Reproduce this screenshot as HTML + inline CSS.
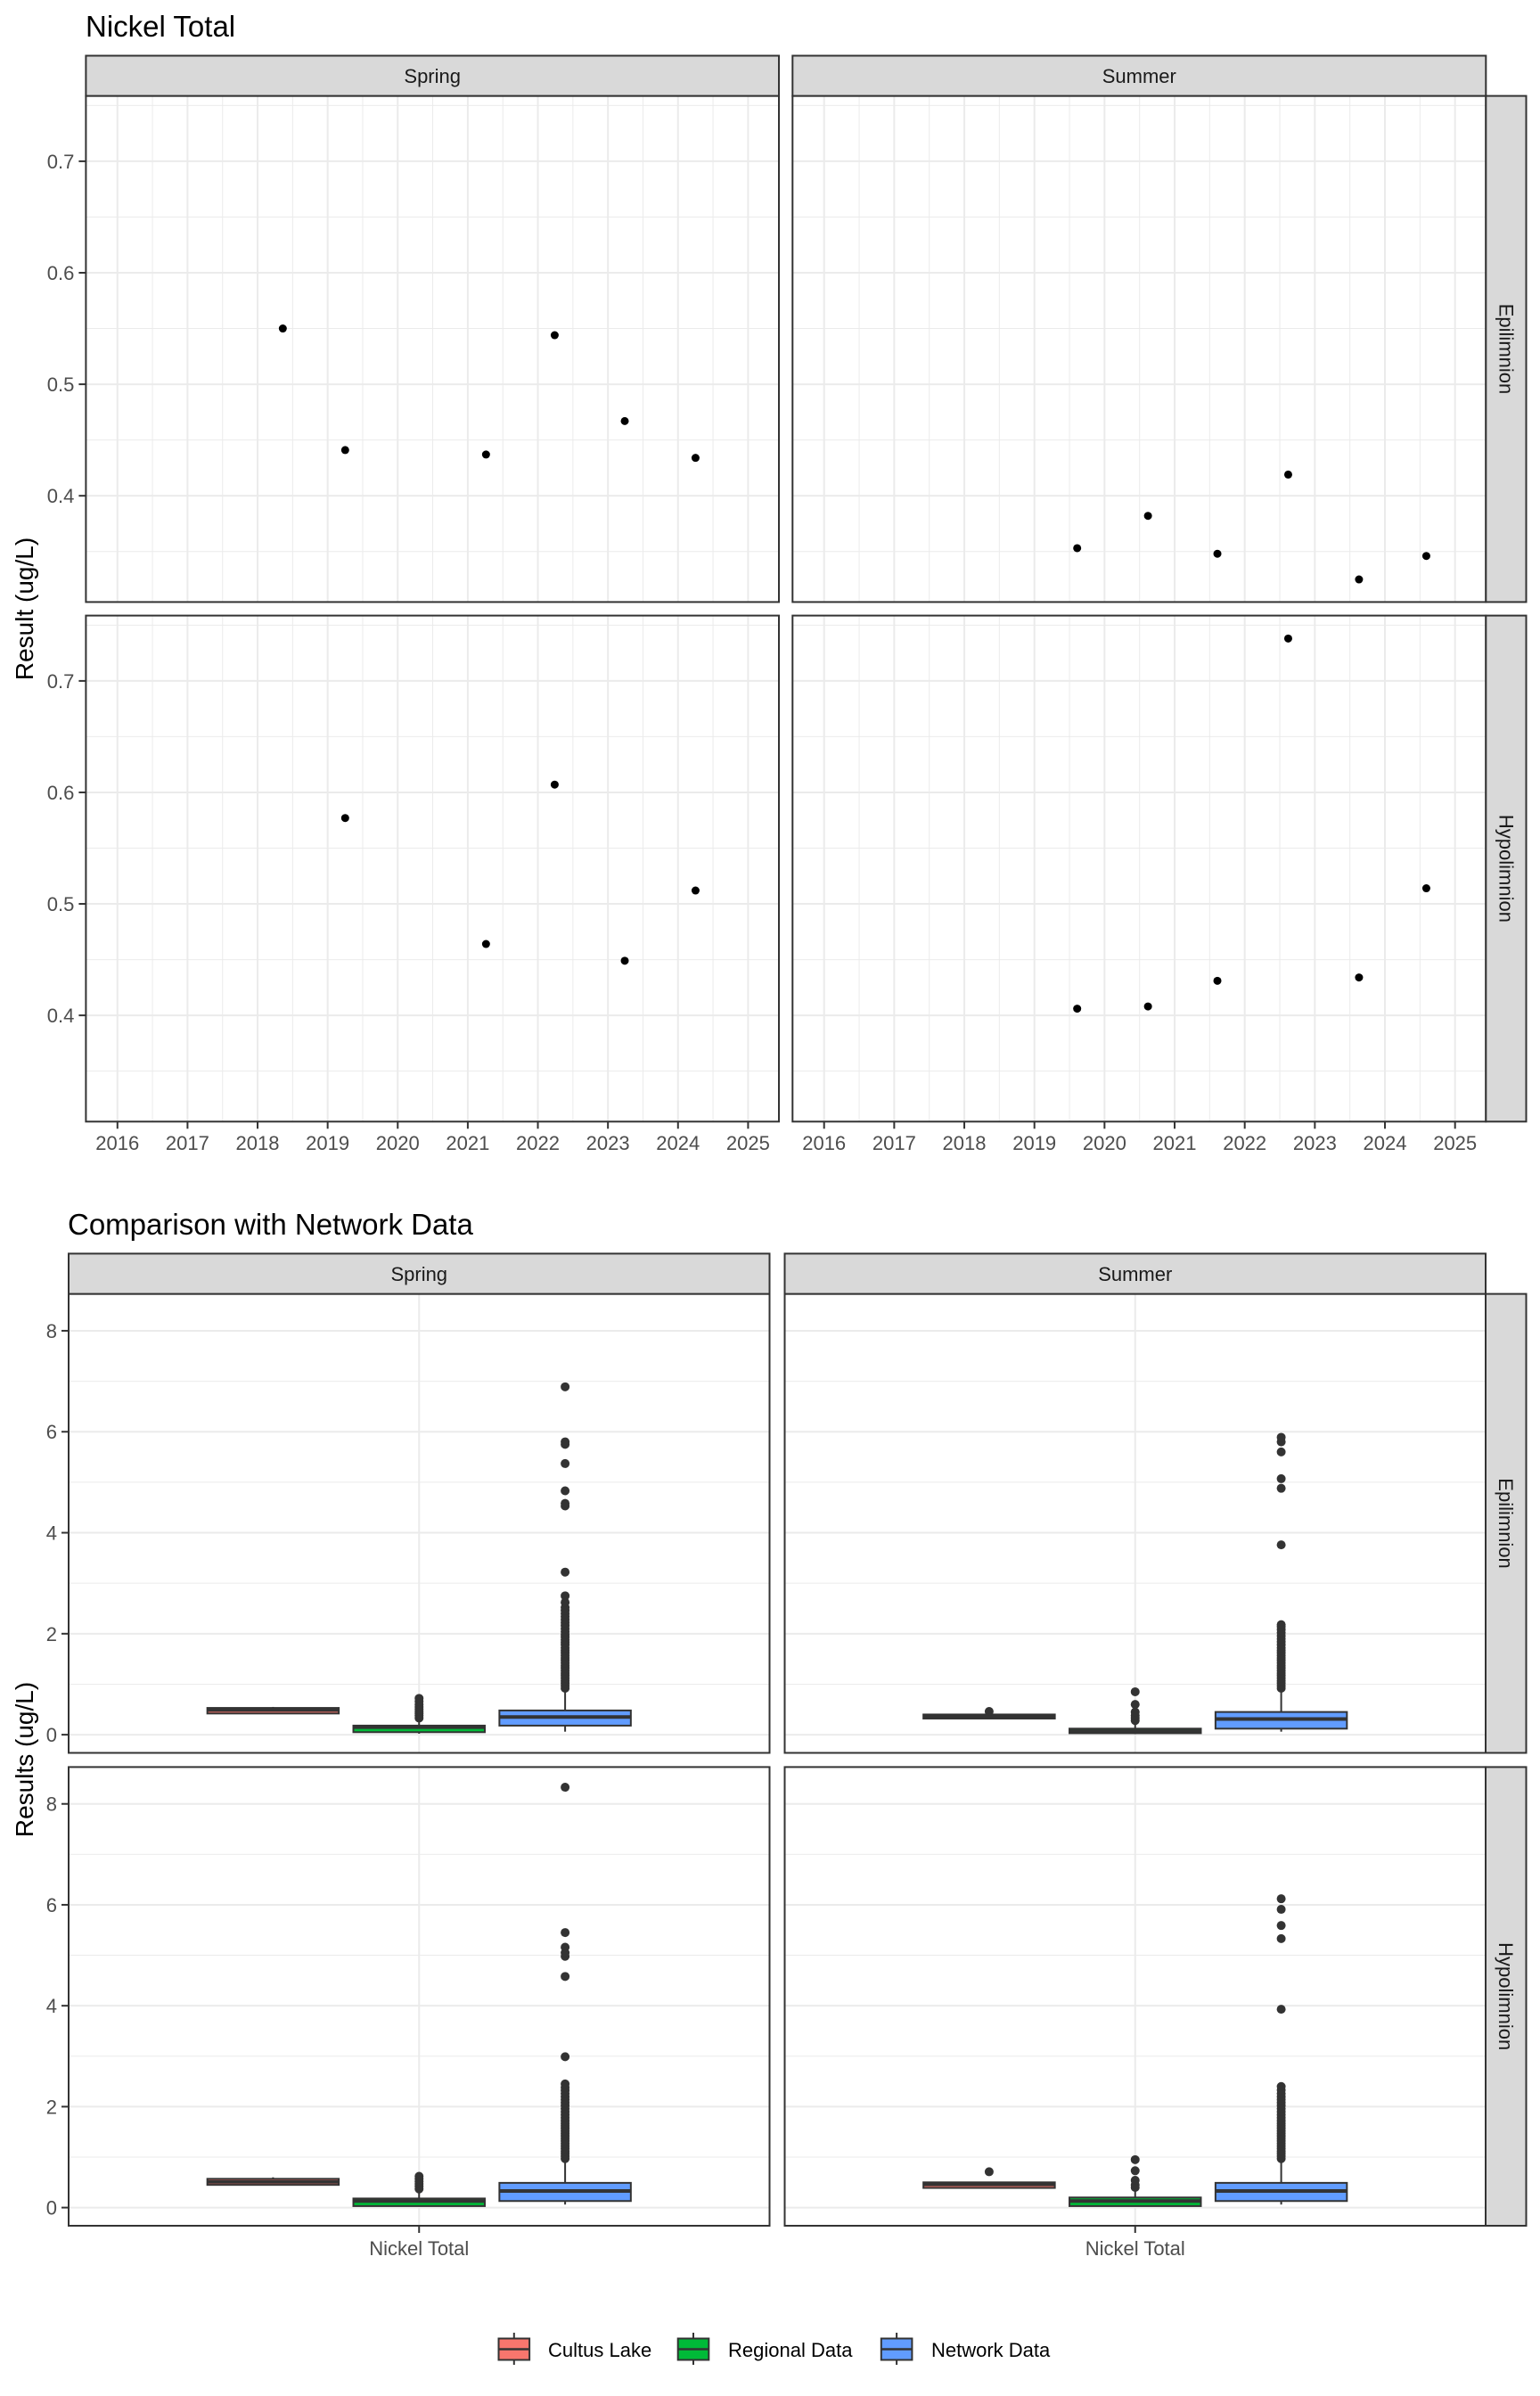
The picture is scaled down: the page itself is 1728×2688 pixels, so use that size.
<!DOCTYPE html>
<html><head><meta charset="utf-8"><title>Nickel Total</title>
<style>
html,body{margin:0;padding:0;background:#fff;}
svg{display:block;font-family:"Liberation Sans",Arial,sans-serif;}
</style></head>
<body>
<svg id="root" width="1728" height="2688" viewBox="0 0 1728 2688" xmlns="http://www.w3.org/2000/svg">
<rect x="0" y="0" width="1728" height="2688" fill="#fff"/>
<text x="96" y="41" font-size="33" fill="#000">Nickel Total</text>
<text x="76" y="1385" font-size="33" fill="#000">Comparison with Network Data</text>
<text transform="translate(37,683) rotate(-90)" text-anchor="middle" font-size="28" fill="#000">Result (ug/L)</text>
<text transform="translate(37,1974) rotate(-90)" text-anchor="middle" font-size="28" fill="#000">Results (ug/L)</text>
<g id="time-chart"></g>
<g id="box-chart"></g>
<g id="legend"></g>
</svg>
<script>
// ---------- Time series data ----------
const yearTicks = [2016, 2017, 2018, 2019, 2020, 2021, 2022, 2023, 2024, 2025];
const resultTicks = [0.4, 0.5, 0.6, 0.7];
const resultTickLabels = ["0.4", "0.5", "0.6", "0.7"];
const seasons = ["Spring", "Summer"];
const layers = ["Epilimnion", "Hypolimnion"];
const springEpiDates = [2018.36, 2019.25, 2021.26, 2022.24, 2023.24, 2024.25];
const springEpiValues = [0.550, 0.441, 0.437, 0.544, 0.467, 0.434];
const summerEpiDates = [2019.61, 2020.62, 2021.61, 2022.62, 2023.63, 2024.59];
const summerEpiValues = [0.353, 0.382, 0.348, 0.419, 0.325, 0.346];
const springHypoDates = [2019.25, 2021.26, 2022.24, 2023.24, 2024.25];
const springHypoValues = [0.577, 0.464, 0.607, 0.449, 0.512];
const summerHypoDates = [2019.61, 2020.62, 2021.61, 2022.62, 2023.63, 2024.59];
const summerHypoValues = [0.406, 0.408, 0.431, 0.738, 0.434, 0.514];

// ---------- Boxplot data: [lowerWhisker, q1, median, q3, upperWhisker] ----------
const groups = ["Cultus Lake", "Regional Data", "Network Data"];
const groupColors = ["#F8766D", "#00BA38", "#619CFF"];
const boxTicks = [0, 2, 4, 6, 8];
const boxTickLabels = ["0", "2", "4", "6", "8"];
const category = "Nickel Total";
const springEpiCultus = [0.41, 0.42, 0.49, 0.53, 0.55];
const springEpiRegional = [0.02, 0.05, 0.15, 0.18, 0.30];
const springEpiNetwork = [0.06, 0.18, 0.35, 0.48, 0.89];
const springEpiCultusOut = [];
const springEpiRegionalOut = [0.33, 0.38, 0.42, 0.46, 0.50, 0.55, 0.60, 0.66, 0.72];
const springEpiNetworkOut = [0.92, 0.97, 1.02, 1.07, 1.12, 1.17, 1.22, 1.27, 1.32, 1.37, 1.42, 1.47, 1.52, 1.57, 1.62, 1.67, 1.72, 1.78, 1.83, 1.88, 1.93, 1.98, 2.04, 2.10, 2.16, 2.22, 2.28, 2.34, 2.40, 2.46, 2.52, 2.62, 2.75, 3.22, 4.53, 4.58, 4.83, 5.37, 5.75, 5.80, 6.89];
const summerEpiCultus = [0.31, 0.32, 0.36, 0.40, 0.41];
const summerEpiRegional = [0.01, 0.03, 0.07, 0.12, 0.25];
const summerEpiNetwork = [0.06, 0.12, 0.31, 0.45, 0.86];
const summerEpiCultusOut = [0.46];
const summerEpiRegionalOut = [0.28, 0.33, 0.38, 0.45, 0.60, 0.85];
const summerEpiNetworkOut = [0.92, 0.97, 1.02, 1.07, 1.12, 1.17, 1.22, 1.27, 1.32, 1.37, 1.42, 1.47, 1.52, 1.57, 1.62, 1.67, 1.72, 1.78, 1.84, 1.90, 1.96, 2.02, 2.08, 2.14, 2.18, 3.76, 4.88, 5.07, 5.60, 5.80, 5.89];
const springHypoCultus = [0.44, 0.45, 0.51, 0.57, 0.60];
const springHypoRegional = [0.02, 0.03, 0.13, 0.18, 0.30];
const springHypoNetwork = [0.06, 0.13, 0.33, 0.49, 0.93];
const springHypoCultusOut = [];
const springHypoRegionalOut = [0.37, 0.42, 0.47, 0.52, 0.57, 0.62];
const springHypoNetworkOut = [0.97, 1.02, 1.07, 1.12, 1.17, 1.22, 1.27, 1.32, 1.37, 1.42, 1.47, 1.52, 1.57, 1.62, 1.67, 1.72, 1.78, 1.84, 1.90, 1.96, 2.02, 2.08, 2.14, 2.20, 2.26, 2.32, 2.38, 2.45, 2.99, 4.58, 4.98, 5.05, 5.16, 5.45, 8.33];
const summerHypoCultus = [0.38, 0.39, 0.46, 0.50, 0.51];
const summerHypoRegional = [0.02, 0.03, 0.13, 0.20, 0.35];
const summerHypoNetwork = [0.06, 0.13, 0.33, 0.49, 0.93];
const summerHypoCultusOut = [0.71];
const summerHypoRegionalOut = [0.40, 0.45, 0.54, 0.73, 0.95];
const summerHypoNetworkOut = [0.97, 1.02, 1.07, 1.12, 1.17, 1.22, 1.27, 1.32, 1.37, 1.42, 1.47, 1.52, 1.57, 1.62, 1.67, 1.72, 1.78, 1.84, 1.90, 1.96, 2.02, 2.08, 2.14, 2.20, 2.26, 2.33, 2.40, 3.93, 5.33, 5.59, 5.91, 6.12];

const NS = "http://www.w3.org/2000/svg";
function mk(parent, tag, attrs, text) {
  const e = document.createElementNS(NS, tag);
  for (const k in attrs) e.setAttribute(k, attrs[k]);
  if (text !== undefined) e.textContent = text;
  parent.appendChild(e);
  return e;
}

// ---------- Time chart ----------
(function(){
  const g = document.getElementById('time-chart');
  const cols = [[96.4, 874], [889.3, 1667.3]];
  const rows = [[107.6, 675.4], [690.6, 1258.3]];
  const xDom = [2015.55, 2025.44], yDom = [0.3047, 0.7586];
  const dates = [[springEpiDates, summerEpiDates], [springHypoDates, summerHypoDates]];
  const vals = [[springEpiValues, summerEpiValues], [springHypoValues, summerHypoValues]];
  for (let r = 0; r < 2; r++) {
    for (let c = 0; c < 2; c++) {
      const [x0, x1] = cols[c], [y0, y1] = rows[r];
      const xs = v => x0 + (v - xDom[0]) / (xDom[1] - xDom[0]) * (x1 - x0);
      const ys = v => y1 - (v - yDom[0]) / (yDom[1] - yDom[0]) * (y1 - y0);
      const p = mk(g, 'g', {});
      
      
      mk(p, 'rect', {x: x0, y: y0, width: x1 - x0, height: y1 - y0, fill: '#fff'});
      // minor grid
      for (let i = 0; i < yearTicks.length + 1; i++) {
        const mx = xs(yearTicks[0] - 0.5 + i);
        if (mx > x0 && mx < x1) mk(p, 'line', {x1: mx, x2: mx, y1: y0, y2: y1, stroke: '#ebebeb', 'stroke-width': 1});
      }
      for (let i = 0; i < resultTicks.length + 1; i++) {
        const my = ys(resultTicks[0] - 0.05 + i * 0.1);
        if (my > y0 && my < y1) mk(p, 'line', {x1: x0, x2: x1, y1: my, y2: my, stroke: '#ebebeb', 'stroke-width': 1});
      }
      yearTicks.forEach(t => mk(p, 'line', {x1: xs(t), x2: xs(t), y1: y0, y2: y1, stroke: '#ebebeb', 'stroke-width': 2}));
      resultTicks.forEach(t => mk(p, 'line', {x1: x0, x2: x1, y1: ys(t), y2: ys(t), stroke: '#ebebeb', 'stroke-width': 2}));
      dates[r][c].forEach((d, i) => {
        const pt = mk(p, 'circle', {cx: xs(d), cy: ys(vals[r][c][i]), r: 4.5, fill: '#000'});
        
        
      });
      mk(p, 'rect', {x: x0, y: y0, width: x1 - x0, height: y1 - y0, fill: 'none', stroke: '#333', 'stroke-width': 2});
      if (r === 0) {
        const s = mk(g, 'rect', {x: x0, y: 62.5, width: x1 - x0, height: 45.1, fill: '#d9d9d9', stroke: '#333', 'stroke-width': 2});
        
        
        mk(g, 'text', {x: (x0 + x1) / 2, y: 93, 'text-anchor': 'middle', 'font-size': 22, fill: '#1a1a1a'}, seasons[c]);
      }
      if (c === 1) {
        const s = mk(g, 'rect', {x: x1, y: y0, width: 45.2, height: y1 - y0, fill: '#d9d9d9', stroke: '#333', 'stroke-width': 2});
        
        
        mk(g, 'text', {transform: 'translate(' + (x1 + 15) + ',' + ((y0 + y1) / 2) + ') rotate(90)', 'text-anchor': 'middle', 'font-size': 22, fill: '#1a1a1a'}, layers[r]);
      }
      if (c === 0) {
        resultTicks.forEach((t, i) => {
          mk(g, 'line', {x1: x0 - 8, x2: x0, y1: ys(t), y2: ys(t), stroke: '#333', 'stroke-width': 2});
          const tl = mk(g, 'text', {x: x0 - 13, y: ys(t) + 8, 'text-anchor': 'end', 'font-size': 22, fill: '#4d4d4d'}, resultTickLabels[i]);
          
          
        });
      }
      if (r === 1) {
        yearTicks.forEach(t => {
          mk(g, 'line', {x1: xs(t), x2: xs(t), y1: y1, y2: y1 + 8, stroke: '#333', 'stroke-width': 2});
          const tl = mk(g, 'text', {x: xs(t), y: 1290, 'text-anchor': 'middle', 'font-size': 22, fill: '#4d4d4d'}, String(t));
          
          
        });
      }
    }
  }
})();

// ---------- Box chart ----------
(function(){
  const g = document.getElementById('box-chart');
  const cols = [[77, 863.5], [880.5, 1667]];
  const rows = [[1451.6, 1966.5], [1982.4, 2497]];
  const yDom = [-0.36, 8.73];
  const stats = [[[springEpiCultus, springEpiRegional, springEpiNetwork], [summerEpiCultus, summerEpiRegional, summerEpiNetwork]],
                 [[springHypoCultus, springHypoRegional, springHypoNetwork], [summerHypoCultus, summerHypoRegional, summerHypoNetwork]]];
  const outs = [[[springEpiCultusOut, springEpiRegionalOut, springEpiNetworkOut], [summerEpiCultusOut, summerEpiRegionalOut, summerEpiNetworkOut]],
                [[springHypoCultusOut, springHypoRegionalOut, springHypoNetworkOut], [summerHypoCultusOut, summerHypoRegionalOut, summerHypoNetworkOut]]];
  for (let r = 0; r < 2; r++) {
    for (let c = 0; c < 2; c++) {
      const [x0, x1] = cols[c], [y0, y1] = rows[r];
      const unit = (x1 - x0) / 1.2;
      const xs = v => x0 + (v - 0.4) * unit;
      const ys = v => y1 - (v - yDom[0]) / (yDom[1] - yDom[0]) * (y1 - y0);
      const p = mk(g, 'g', {});
      
      
      mk(p, 'rect', {x: x0, y: y0, width: x1 - x0, height: y1 - y0, fill: '#fff'});
      for (let i = 0; i < boxTicks.length; i++) {
        const my = ys(boxTicks[i] + 1);
        if (my > y0) mk(p, 'line', {x1: x0, x2: x1, y1: my, y2: my, stroke: '#ebebeb', 'stroke-width': 1});
      }
      boxTicks.forEach(t => mk(p, 'line', {x1: x0, x2: x1, y1: ys(t), y2: ys(t), stroke: '#ebebeb', 'stroke-width': 2}));
      mk(p, 'line', {x1: xs(1), x2: xs(1), y1: y0, y2: y1, stroke: '#ebebeb', 'stroke-width': 2});
      groups.forEach((gname, k) => {
        const cx = xs(1 + (k - 1) * 0.25), hw = 0.1125 * unit;
        const s = stats[r][c][k];
        const bg = mk(p, 'g', {});
        
        
        mk(bg, 'line', {x1: cx, x2: cx, y1: ys(s[0]), y2: ys(s[1]), stroke: '#333', 'stroke-width': 2});
        mk(bg, 'line', {x1: cx, x2: cx, y1: ys(s[3]), y2: ys(s[4]), stroke: '#333', 'stroke-width': 2});
        mk(bg, 'rect', {x: cx - hw, y: ys(s[3]), width: 2 * hw, height: Math.max(ys(s[1]) - ys(s[3]), 1), fill: groupColors[k], stroke: '#333', 'stroke-width': 2});
        mk(bg, 'line', {x1: cx - hw, x2: cx + hw, y1: ys(s[2]), y2: ys(s[2]), stroke: '#333', 'stroke-width': 4});
        outs[r][c][k].forEach(v => {
          const o = mk(bg, 'circle', {cx: cx, cy: ys(v), r: 5, fill: '#333'});
          
          
        });
      });
      mk(p, 'rect', {x: x0, y: y0, width: x1 - x0, height: y1 - y0, fill: 'none', stroke: '#333', 'stroke-width': 2});
      if (r === 0) {
        const s = mk(g, 'rect', {x: x0, y: 1406.4, width: x1 - x0, height: 45.2, fill: '#d9d9d9', stroke: '#333', 'stroke-width': 2});
        
        
        mk(g, 'text', {x: (x0 + x1) / 2, y: 1437, 'text-anchor': 'middle', 'font-size': 22, fill: '#1a1a1a'}, seasons[c]);
      }
      if (c === 1) {
        const s = mk(g, 'rect', {x: x1, y: y0, width: 45.5, height: y1 - y0, fill: '#d9d9d9', stroke: '#333', 'stroke-width': 2});
        
        
        mk(g, 'text', {transform: 'translate(' + (x1 + 15) + ',' + ((y0 + y1) / 2) + ') rotate(90)', 'text-anchor': 'middle', 'font-size': 22, fill: '#1a1a1a'}, layers[r]);
      }
      if (c === 0) {
        boxTicks.forEach((t, i) => {
          mk(g, 'line', {x1: x0 - 8, x2: x0, y1: ys(t), y2: ys(t), stroke: '#333', 'stroke-width': 2});
          const tl = mk(g, 'text', {x: x0 - 13, y: ys(t) + 8, 'text-anchor': 'end', 'font-size': 22, fill: '#4d4d4d'}, boxTickLabels[i]);
          
          
        });
      }
      if (r === 1) {
        mk(g, 'line', {x1: xs(1), x2: xs(1), y1: y1, y2: y1 + 8, stroke: '#333', 'stroke-width': 2});
        const tl = mk(g, 'text', {x: xs(1), y: 2530, 'text-anchor': 'middle', 'font-size': 22, fill: '#4d4d4d'}, category);
        
        
      }
    }
  }
})();

// ---------- Legend ----------
(function(){
  const g = document.getElementById('legend');
  const keyX = [559.5, 760.7, 988.8];
  const textX = [615, 817, 1045];
  groups.forEach((name, k) => {
    const e = mk(g, 'g', {});
    
    
    const cx = keyX[k] + 17.3;
    mk(e, 'line', {x1: cx, x2: cx, y1: 2617, y2: 2653, stroke: '#333', 'stroke-width': 2});
    mk(e, 'rect', {x: keyX[k], y: 2623.5, width: 34.6, height: 24, fill: groupColors[k], stroke: '#333', 'stroke-width': 2});
    mk(e, 'line', {x1: keyX[k], x2: keyX[k] + 34.6, y1: 2635.5, y2: 2635.5, stroke: '#333', 'stroke-width': 2.5});
    mk(e, 'text', {x: textX[k], y: 2644, 'font-size': 22, fill: '#000'}, name);
  });
})();
</script>
</body></html>
